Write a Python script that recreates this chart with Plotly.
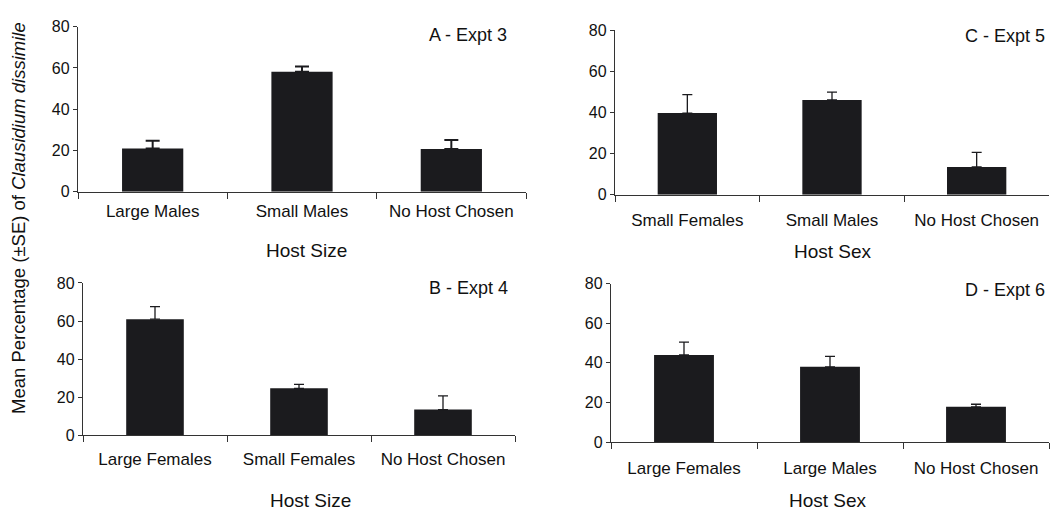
import plotly.graph_objects as go

# ---- data ----
cats_a = ["Large Males", "Small Males", "No Host Chosen"]
mean_a = [21.0, 58.2, 20.7]
se_a = [3.8, 2.5, 4.4]

cats_b = ["Large Females", "Small Females", "No Host Chosen"]
mean_b = [61.0, 24.7, 13.5]
se_b = [6.6, 2.1, 7.2]

cats_c = ["Small Females", "Small Males", "No Host Chosen"]
mean_c = [39.7, 46.1, 13.5]
se_c = [9.0, 3.8, 7.1]

cats_d = ["Large Females", "Large Males", "No Host Chosen"]
mean_d = [44.0, 38.0, 17.8]
se_d = [6.5, 5.3, 1.3]

y_ticks = [0, 20, 40, 60, 80]

# the page body has an 8px margin on every side; size the figure so the page fits
OFF = 8
W, H = 1059 - 2 * OFF, 519 - 2 * OFF
BAR = "#1b1b1e"
INK = "#111111"
FONT = "Liberation Sans, Arial, sans-serif"


def px_x(p):
    return (p - OFF) / W


def px_y(p):
    return 1 - (p - OFF) / H


# panel geometry in pixels of the final picture: x-range, (y at 0, y at 80)
panels = [
    dict(cats=cats_a, mean=mean_a, se=se_a, x=(78, 526), y=(190, 19), standoff=4,
         bw=0.41, cap=7, thick=2.0),
    dict(cats=cats_c, mean=mean_c, se=se_c, x=(615, 1049), y=(193, 22.7), standoff=10,
         bw=0.41, cap=5, thick=1.3),
    dict(cats=cats_b, mean=mean_b, se=se_b, x=(83, 515), y=(442, 284.3), standoff=8,
         bw=0.40, cap=5, thick=1.3),
    dict(cats=cats_d, mean=mean_d, se=se_d, x=(611, 1049), y=(449, 285), standoff=10,
         bw=0.41, cap=5, thick=1.3),
]

fig = go.Figure()
layout = {}
for i, p in enumerate(panels):
    n = "" if i == 0 else str(i + 1)
    fig.add_trace(go.Bar(
        x=p["cats"], y=p["mean"],
        marker=dict(color=BAR, line=dict(width=0)),
        width=p["bw"],
        error_y=dict(type="data", symmetric=False, array=p["se"],
                     arrayminus=[0] * len(p["se"]), color=BAR,
                     thickness=p["thick"], width=p["cap"]),
        xaxis="x" + n, yaxis="y" + n, showlegend=False,
    ))
    layout["xaxis" + n] = dict(
        domain=[px_x(p["x"][0]), min(1.0, px_x(p["x"][1]))], anchor="y" + n,
        type="category", showline=True, linecolor="#333", linewidth=1.3,
        ticks="outside", tickson="boundaries", ticklen=6, tickcolor="#333",
        tickfont=dict(family=FONT, size=17, color=INK),
        ticklabelstandoff=p["standoff"], showgrid=False, zeroline=False,
        fixedrange=True,
    )
    layout["yaxis" + n] = dict(
        domain=[px_y(p["y"][0]), px_y(p["y"][1])], anchor="x" + n,
        range=[0, 80], tickvals=y_ticks, showline=True, linecolor="#333",
        linewidth=1.3, ticks="outside", ticklen=4, tickcolor="#333",
        tickfont=dict(family=FONT, size=16, color=INK),
        showgrid=False, zeroline=False, fixedrange=True,
    )

annotations = []
for t, x, y in [("A - Expt 3", 509, 28), ("C - Expt 5", 1047, 29),
                ("B - Expt 4", 510, 290), ("D - Expt 6", 1047, 292)]:
    annotations.append(dict(text=t, x=px_x(x), y=px_y(y), xref="paper", yref="paper",
                            xanchor="right", yanchor="middle", showarrow=False,
                            font=dict(family=FONT, size=18, color=INK)))

for t, x, y in [("Host Size", 306, 251), ("Host Sex", 833, 252),
                ("Host Size", 310, 509), ("Host Sex", 828, 509)]:
    annotations.append(dict(text=t, x=px_x(x), y=px_y(y), xref="paper", yref="paper",
                            xanchor="center", yanchor="middle", showarrow=False,
                            font=dict(family=FONT, size=19, color=INK)))

annotations.append(dict(
    text="Mean Percentage (±SE) of <i>Clausidium dissimile</i>",
    x=px_x(19), y=px_y(217), xref="paper", yref="paper", textangle=-90,
    xanchor="center", yanchor="middle", showarrow=False,
    font=dict(family=FONT, size=18.5, color=INK)))

fig.update_layout(
    width=W, height=H, margin=dict(l=0, r=0, t=0, b=0),
    paper_bgcolor="white", plot_bgcolor="white",
    annotations=annotations, **layout,
)

fig.write_html("out.html")
